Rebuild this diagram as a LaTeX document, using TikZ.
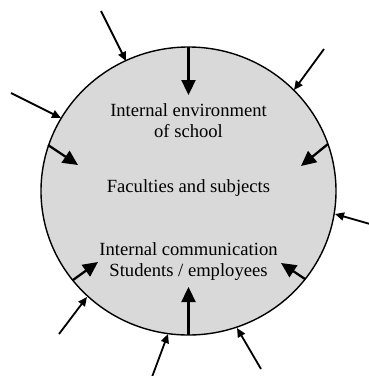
\documentclass[tikz,border=0pt]{standalone}
\usepackage{fontspec}
\setmainfont{Liberation Serif}
\usetikzlibrary{arrows.meta,shapes.geometric}
\begin{document}
\begin{tikzpicture}[x=1pt,y=-1pt,
  label/.style={anchor=base,inner sep=0pt,font=\fontsize{18.6}{21}\selectfont},
  inflow/.style={line width=2.3pt,-{Triangle[length=15pt,width=14pt]}},
  outflow/.style={line width=1.8pt,-{Triangle[length=9pt,width=8pt]}}]
\useasboundingbox (0,0) rectangle (369,376);
% the school as a shaded ellipse
\node[ellipse,draw,line width=1.4pt,fill=black!15,minimum width=295pt,minimum height=288pt,inner sep=0pt] (env) at (188.5,191) {};

% text inside
\node[label] (t1) at (188.5,116) {Internal environment};
\node[label] (t2) at (188.5,137) {of school};
\node[label] (t3) at (188.5,192) {Faculties and subjects};
\node[label] (t4) at (188.5,255) {Internal communication};
\node[label] (t5) at (188.5,276) {Students / employees};

% points on the border where the inner arrows start
\coordinate (bN)  at (188.5,47);
\coordinate (bNW) at (48,145);
\coordinate (bNE) at (328,144);
\coordinate (bSW) at (73,280);
\coordinate (bSE) at (305,279);
\coordinate (bS)  at (188.5,335);
% inner arrow tips
\coordinate (iN)  at (188.5,95);
\coordinate (iNW) at (78,165);
\coordinate (iNE) at (301,166);
\coordinate (iSW) at (98,262);
\coordinate (iSE) at (281,263);
\coordinate (iS)  at (188.5,287);

\draw[inflow] (bN) -- (iN);
\draw[inflow] (bNW) -- (iNW);
\draw[inflow] (bNE) -- (iNE);
\draw[inflow] (bSW) -- (iSW);
\draw[inflow] (bSE) -- (iSE);
\draw[inflow] (bS) -- (iS);

% outer sources and their landing points on the border
\coordinate (oA) at (101,11);  \coordinate (eA) at (126,61);
\coordinate (oB) at (324,49);  \coordinate (eB) at (294,90);
\coordinate (oC) at (11,93);   \coordinate (eC) at (61,118);
\coordinate (oD) at (370,224); \coordinate (eD) at (335,214);
\coordinate (oE) at (59,334);  \coordinate (eE) at (87,297);
\coordinate (oF) at (152,377); \coordinate (eF) at (168,334);
\coordinate (oG) at (261,369); \coordinate (eG) at (237,328);

\draw[outflow] (oA) -- (eA);
\draw[outflow] (oB) -- (eB);
\draw[outflow] (oC) -- (eC);
\draw[outflow] (oD) -- (eD);
\draw[outflow] (oE) -- (eE);
\draw[outflow] (oF) -- (eF);
\draw[outflow] (oG) -- (eG);
\end{tikzpicture}
\end{document}
